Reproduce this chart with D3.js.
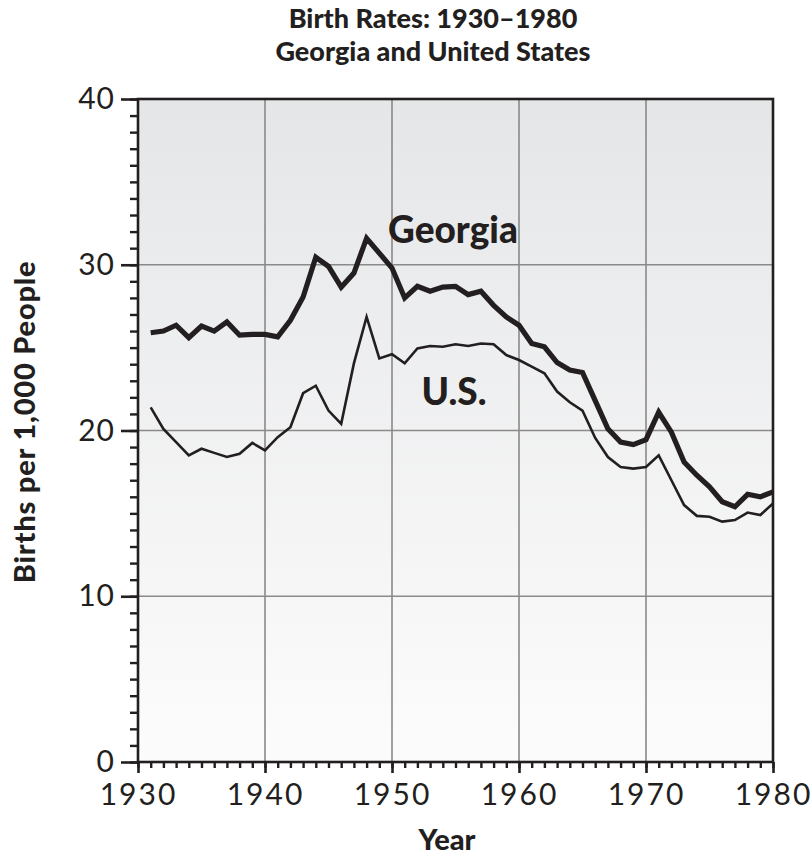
<!DOCTYPE html>
<html>
<head>
<meta charset="utf-8">
<script src="https://cdn.jsdelivr.net/npm/d3@7"></script>
<style>
  html, body { margin: 0; padding: 0; background: #fff; }
  svg { display: block; }
</style>
</head>
<body>
<svg id="chart" width="812" height="859"></svg>
<script>
const years = d3.range(1931, 1981);
const georgia = [25.9, 26.0, 26.35, 25.6, 26.3, 26.0, 26.55, 25.75, 25.8, 25.8,
                 25.65, 26.65, 28.05, 30.45, 29.9, 28.65, 29.5, 31.6, 30.7, 29.8,
                 28.0, 28.7, 28.4, 28.65, 28.7, 28.2, 28.4, 27.55, 26.85, 26.35,
                 25.25, 25.05, 24.1, 23.65, 23.5, 21.8, 20.1, 19.3, 19.15, 19.45,
                 21.1, 19.9, 18.1, 17.3, 16.6, 15.7, 15.4, 16.15, 16.0, 16.3];
const us = [21.4, 20.1, 19.3, 18.5, 18.9, 18.65, 18.4, 18.6, 19.25, 18.8,
            19.6, 20.2, 22.25, 22.7, 21.2, 20.4, 24.05, 26.85, 24.35, 24.6,
            24.05, 24.95, 25.1, 25.05, 25.2, 25.1, 25.25, 25.2, 24.55, 24.25,
            23.85, 23.45, 22.35, 21.7, 21.2, 19.55, 18.4, 17.8, 17.7, 17.8,
            18.5, 17.0, 15.5, 14.85, 14.8, 14.5, 14.6, 15.05, 14.9, 15.6];
const xTicks = [1930, 1940, 1950, 1960, 1970, 1980];
const yTicks = [0, 10, 20, 30, 40];
const titleLines = ["Birth Rates: 1930\u20131980", "Georgia and United States"];
const seriesLabels = ["Georgia", "U.S."];

const svg = d3.select("#chart");
const W = 812, H = 859;
const m = {left: 138, right: 39, top: 99, bottom: 97};
const iw = W - m.left - m.right, ih = H - m.top - m.bottom;

const x = d3.scaleLinear().domain([1930, 1980]).range([m.left, m.left + iw]);
const y = d3.scaleLinear().domain([0, 40]).range([m.top + ih, m.top]);

const defs = svg.append("defs");
const grad = defs.append("linearGradient").attr("id", "bg").attr("x1", 0).attr("y1", 0).attr("x2", 0).attr("y2", 1);
grad.append("stop").attr("offset", "0%").attr("stop-color", "#e5e6e8");
grad.append("stop").attr("offset", "100%").attr("stop-color", "#fcfcfc");

svg.append("rect").attr("x", x(1930)).attr("y", y(40))
  .attr("width", x(1980) - x(1930)).attr("height", y(0) - y(40))
  .attr("fill", "url(#bg)");

// gridlines
const grid = svg.append("g");
grid.selectAll(".vg").data(xTicks.slice(1, -1)).join("line")
  .attr("x1", d => x(d)).attr("x2", d => x(d))
  .attr("y1", y(40)).attr("y2", y(0))
  .attr("stroke", "#8a8a8a").attr("stroke-width", 1.6);
grid.selectAll(".hg").data(yTicks.slice(1, -1)).join("line")
  .attr("x1", x(1930)).attr("x2", x(1980))
  .attr("y1", d => y(d)).attr("y2", d => y(d))
  .attr("stroke", "#8a8a8a").attr("stroke-width", 1.6);

// lines
const line = d3.line().x((d, i) => x(years[i])).y(d => y(d));
svg.append("path").datum(us).attr("d", line)
  .attr("fill", "none").attr("stroke", "#231f20").attr("stroke-width", 2.6)
  .attr("stroke-linejoin", "miter");
svg.append("path").datum(georgia).attr("d", line)
  .attr("fill", "none").attr("stroke", "#231f20").attr("stroke-width", 5.2)
  .attr("stroke-linejoin", "miter");

// frame
svg.append("rect").attr("x", x(1930)).attr("y", y(40))
  .attr("width", x(1980) - x(1930)).attr("height", y(0) - y(40))
  .attr("fill", "none").attr("stroke", "#231f20").attr("stroke-width", 2.6);

const tickFont = "Lato, 'DejaVu Sans', sans-serif";
// x minor ticks
const xMinor = d3.axisBottom(x).tickValues(d3.range(1930, 1981)).tickSize(6).tickFormat("");
const gxm = svg.append("g").attr("transform", `translate(0,${y(0)})`).call(xMinor);
gxm.select(".domain").remove();
gxm.selectAll("line").attr("stroke", "#231f20").attr("stroke-width", 2.4);
// x major ticks
const xMajor = d3.axisBottom(x).tickValues(xTicks).tickSize(11).tickPadding(11).tickFormat(d3.format("d"));
const gx = svg.append("g").attr("transform", `translate(0,${y(0)})`).call(xMajor);
gx.select(".domain").remove();
gx.selectAll("line").attr("stroke", "#231f20").attr("stroke-width", 2.6);
gx.selectAll("text").attr("fill", "#231f20").attr("font-family", tickFont)
  .attr("font-size", 30).attr("letter-spacing", 2).attr("dy", "0.71em");

// y minor ticks
const yMinor = d3.axisLeft(y).tickValues(d3.range(0, 41)).tickSize(8).tickFormat("");
const gym = svg.append("g").attr("transform", `translate(${x(1930)},0)`).call(yMinor);
gym.select(".domain").remove();
gym.selectAll("line").attr("stroke", "#231f20").attr("stroke-width", 2.4);
const yMajor = d3.axisLeft(y).tickValues(yTicks).tickSize(17).tickPadding(6).tickFormat(d3.format("d"));
const gy = svg.append("g").attr("transform", `translate(${x(1930)},0)`).call(yMajor);
gy.select(".domain").remove();
gy.selectAll("line").attr("stroke", "#231f20").attr("stroke-width", 2.6);
gy.selectAll("text").attr("fill", "#231f20").attr("font-family", tickFont)
  .attr("font-size", 30).attr("letter-spacing", 1);

const boldFont = "Lato, 'DejaVu Sans', sans-serif";
// title
svg.append("g").selectAll("text").data(titleLines).join("text")
  .attr("x", 433).attr("y", (d, i) => 28 + i * 33)
  .attr("text-anchor", "middle").attr("font-family", boldFont)
  .attr("font-weight", 900).attr("font-size", 27).attr("fill", "#231f20")
  .text(d => d);

// axis titles
svg.append("text").attr("x", 447).attr("y", 850).attr("text-anchor", "middle")
  .attr("font-family", boldFont).attr("font-weight", 900).attr("font-size", 29)
  .attr("fill", "#231f20").text("Year");
svg.append("text").attr("transform", "translate(35,422) rotate(-90)")
  .attr("text-anchor", "middle").attr("font-family", boldFont).attr("font-weight", 900)
  .attr("font-size", 29).attr("letter-spacing", 0.8).attr("fill", "#231f20").text("Births per 1,000 People");

// series labels
svg.append("text").attr("x", 453).attr("y", 243).attr("text-anchor", "middle")
  .attr("font-family", boldFont).attr("font-weight", 900).attr("font-size", 37)
  .attr("fill", "#231f20").text(seriesLabels[0]);
svg.append("text").attr("x", 454).attr("y", 405).attr("text-anchor", "middle")
  .attr("font-family", boldFont).attr("font-weight", 900).attr("font-size", 37)
  .attr("fill", "#231f20").text(seriesLabels[1]);
</script>
</body>
</html>
